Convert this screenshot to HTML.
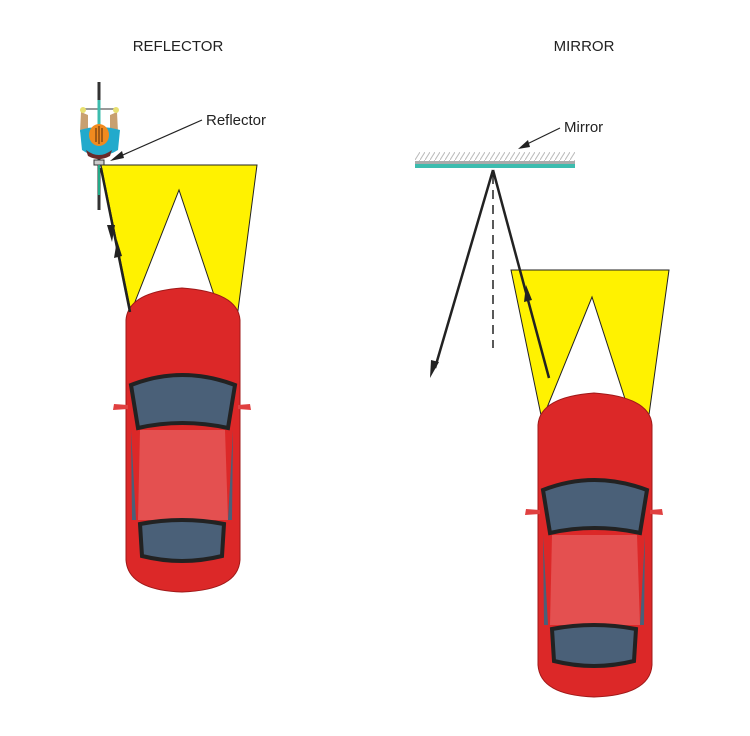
<!DOCTYPE html>
<html><head><style>body{margin:0;background:#fff}svg{display:block}</style></head><body>
<svg width="750" height="736" viewBox="0 0 750 736" xmlns="http://www.w3.org/2000/svg" font-family="Liberation Sans, sans-serif">
<defs>
<pattern id="h" width="5" height="8" patternUnits="userSpaceOnUse"><line x1="0" y1="8" x2="5" y2="0" stroke="#bbb" stroke-width="1"/></pattern>
<g id="car">
<path d="M126 320 Q128 292 182 288 Q238 292 240 320 L240 560 Q238 590 182 592 Q128 590 126 560 Z" fill="#dc2828" stroke="#a01818" stroke-width="1"/>
<path d="M128 405 L114 404 L113 410 L128 409 Z M238 405 L250 404 L251 410 L238 409 Z" fill="#e04040"/>
<path d="M140 430 L225 430 L228 520 L138 520 Z" fill="#e45050"/>
<path d="M131 385 Q182 365 235 385 L228 428 Q182 418 138 428 Z" fill="#4a6078" stroke="#222" stroke-width="4"/>
<path d="M140 524 Q182 516 224 524 L222 556 Q182 566 142 556 Z" fill="#4a6078" stroke="#222" stroke-width="4"/>
<path d="M131 430 L136 520 L132 520 Z M233 430 L228 520 L232 520 Z" fill="#4a6078"/>
</g>
</defs>
<text x="178" y="51" font-size="15" text-anchor="middle" fill="#222">REFLECTOR</text>
<text x="584" y="51" font-size="15" text-anchor="middle" fill="#222">MIRROR</text>
<polygon points="101,165 257,165 237,318 215,298 179,190 131,312" fill="#fff200" stroke="#222" stroke-width="1"/>
<use href="#car"/>
<!-- bike -->
<line x1="99" y1="82" x2="99" y2="210" stroke="#333" stroke-width="3"/>
<line x1="82" y1="109" x2="117" y2="109" stroke="#999" stroke-width="2"/>
<line x1="99" y1="100" x2="99" y2="130" stroke="#3cbcae" stroke-width="3"/>
<path d="M81 112 L80 132 L88 134 L88 115 Z M117 112 L118 132 L110 134 L110 115 Z" fill="#c8a070"/>
<circle cx="83" cy="110" r="3" fill="#e8e070"/><circle cx="116" cy="110" r="3" fill="#e8e070"/>
<path d="M80 130 Q99 124 120 130 L118 150 Q99 162 82 150 Z" fill="#22aacc"/>
<path d="M86 150 Q99 160 112 150 L110 156 Q99 162 88 156 Z" fill="#6a2a2a"/>
<ellipse cx="99" cy="135" rx="10" ry="11" fill="#f08a1e"/>
<line x1="96" y1="128" x2="96" y2="142" stroke="#6a3a10" stroke-width="1.2"/>
<line x1="99" y1="126" x2="99" y2="144" stroke="#6a3a10" stroke-width="1.2"/>
<line x1="102" y1="128" x2="102" y2="142" stroke="#6a3a10" stroke-width="1.2"/>
<rect x="94" y="160" width="10" height="5" fill="#ccc" stroke="#333"/>
<line x1="99" y1="165" x2="99" y2="195" stroke="#2a8" stroke-width="2"/>
<text x="206" y="125" font-size="15" fill="#222">Reflector</text>
<line x1="202" y1="120" x2="116" y2="158" stroke="#222" stroke-width="1.2"/>
<polygon points="110,161 122,151 124,158" fill="#222"/>
<line x1="101" y1="168" x2="130" y2="312" stroke="#222" stroke-width="2.5"/>
<polygon points="107,225 115,225 112,242" fill="#222"/>
<polygon points="114,258 122,256 117,240" fill="#222"/>
<rect x="415" y="152" width="160" height="9" fill="url(#h)"/>
<rect x="415" y="161" width="160" height="3" fill="#aaa"/>
<rect x="415" y="164" width="160" height="4" fill="#3cbcae"/>
<text x="564" y="132" font-size="15" fill="#222">Mirror</text>
<line x1="560" y1="128" x2="523" y2="146" stroke="#222" stroke-width="1.2"/>
<polygon points="518,149 528,140 530,147" fill="#222"/>
<line x1="493" y1="175" x2="493" y2="348" stroke="#222" stroke-width="1.5" stroke-dasharray="9,6"/>
<polygon points="511,270 669,270 648,422 626,402 592,297 542,420" fill="#fff200" stroke="#222" stroke-width="1"/>
<use href="#car" transform="translate(412,105)"/>
<line x1="493" y1="170" x2="435" y2="368" stroke="#222" stroke-width="2.5"/>
<polygon points="430,378 431,360 439,362" fill="#222"/>
<line x1="493" y1="170" x2="549" y2="378" stroke="#222" stroke-width="2.5"/>
<polygon points="526,285 524,302 532,300" fill="#222"/>
</svg>
</body></html>
